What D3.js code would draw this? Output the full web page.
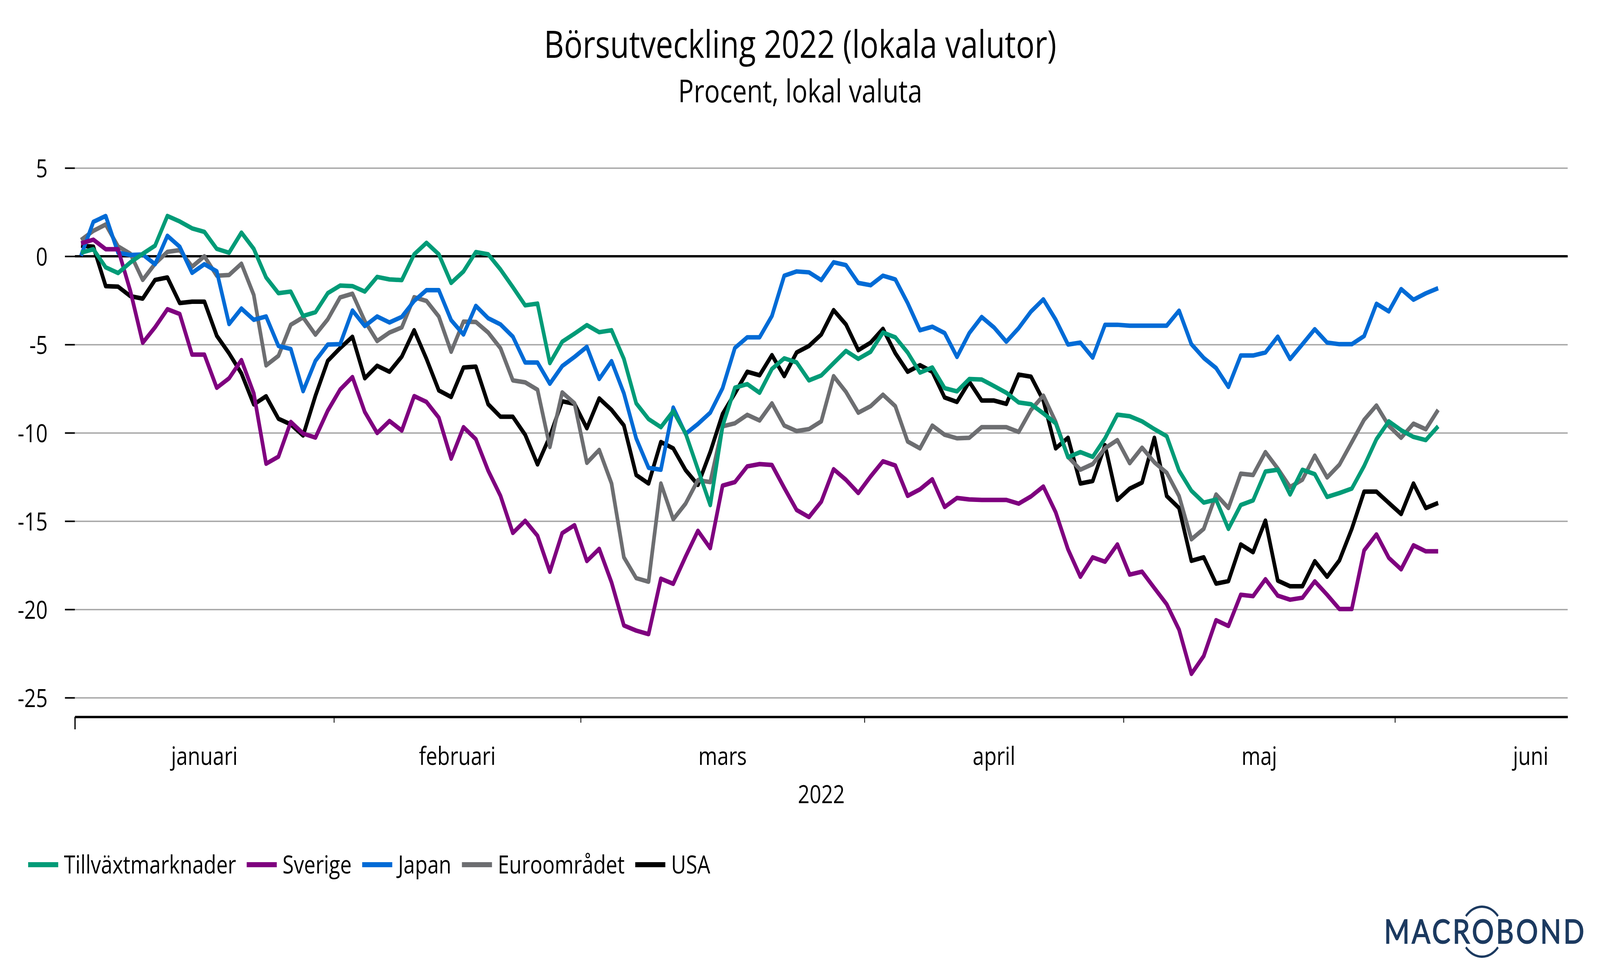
<!DOCTYPE html>
<html>
<head>
<meta charset="utf-8">
<title>Börsutveckling 2022</title>
<script src="https://cdn.jsdelivr.net/npm/d3@7/dist/d3.min.js"></script>
<style>
  html, body { margin: 0; background: #fff; overflow: hidden; }
  svg { display: block; width: 100vw; height: 100vh; }
  text { font-family: "Open Sans", sans-serif; fill: #000; }
</style>
</head>
<body>
<svg id="chart"></svg>
<script>
// values, one per business day from 3 jan 2022
const tillvaxt = [0.2,0.4,-0.63,-0.95,-0.35,0.14,0.6,2.28,1.97,1.58,1.38,0.42,0.2,1.34,0.42,-1.2,-2.09,-2.0,-3.38,-3.17,-2.09,-1.66,-1.69,-2.0,-1.17,
  -1.31,-1.35,0.11,0.76,0.11,-1.51,-0.86,0.24,0.11,-0.75,-1.75,-2.78,-2.68,-6.05,-4.84,-4.38,-3.9,-4.3,-4.19,-5.81,-8.33,-9.22,-9.68,-8.77,-10.03,-12.06,-14.09,-9.63,-7.44,-7.24,-7.73,
  -6.38,-5.78,-6.01,-7.03,-6.75,-6.05,-5.36,-5.81,-5.41,-4.32,-4.59,-5.45,-6.59,-6.3,-7.47,-7.65,-6.95,-6.98,-7.35,-7.73,-8.28,-8.38,-8.9,-9.46,-11.38,-11.09,-11.36,-10.31,-8.97,
  -9.06,-9.35,-9.79,-10.19,-12.14,-13.28,-13.95,-13.78,-15.44,-14.09,-13.83,-12.19,-12.09,-13.49,-12.09,-12.34,-13.63,-13.41,-13.16,-11.88,-10.36,-9.35,-9.85,-10.23,-10.41,-9.63];
const sverige = [0.73,0.94,0.4,0.4,-1.97,-4.9,-4.02,-3.0,-3.27,-5.57,-5.57,-7.45,-6.91,-5.88,-7.76,-11.75,-11.35,-9.38,-10.04,-10.27,-8.74,-7.55,-6.84,-8.82,-10.01,
  -9.33,-9.87,-7.92,-8.25,-9.14,-11.46,-9.68,-10.36,-12.14,-13.57,-15.67,-14.98,-15.83,-17.87,-15.68,-15.23,-17.26,-16.57,-18.47,-20.91,-21.2,-21.4,-18.26,-18.55,-17.01,-15.55,-16.53,-12.99,-12.79,-11.9,-11.77,
  -11.82,-13.12,-14.37,-14.77,-13.9,-12.06,-12.66,-13.41,-12.47,-11.61,-11.85,-13.57,-13.2,-12.63,-14.2,-13.69,-13.77,-13.8,-13.8,-13.8,-14.01,-13.6,-13.04,-14.5,-16.6,-18.15,-17.05,-17.3,-16.32,
  -18.03,-17.86,-18.79,-19.71,-21.15,-23.65,-22.64,-20.61,-20.94,-19.17,-19.25,-18.29,-19.22,-19.45,-19.34,-18.41,-19.17,-19.98,-19.98,-16.66,-15.75,-17.08,-17.73,-16.37,-16.71,-16.71];
const japan = [0.03,1.95,2.28,0.2,0.07,0.1,-0.45,1.16,0.54,-0.94,-0.45,-0.85,-3.84,-2.96,-3.6,-3.41,-5.08,-5.25,-7.64,-5.92,-5.0,-4.98,-3.07,-3.95,-3.41,
  -3.75,-3.43,-2.53,-1.92,-1.92,-3.62,-4.43,-2.81,-3.51,-3.86,-4.55,-6.02,-6.02,-7.22,-6.22,-5.7,-5.13,-6.95,-5.94,-7.76,-10.32,-11.98,-12.09,-8.57,-10.06,-9.5,-8.86,-7.47,-5.19,-4.59,-4.59,
  -3.38,-1.1,-0.86,-0.91,-1.35,-0.34,-0.5,-1.51,-1.64,-1.1,-1.31,-2.65,-4.19,-3.99,-4.35,-5.7,-4.35,-3.44,-4.03,-4.84,-4.07,-3.13,-2.44,-3.59,-5.0,-4.89,-5.74,-3.88,-3.88,
  -3.93,-3.93,-3.93,-3.93,-3.08,-4.98,-5.76,-6.33,-7.4,-5.62,-5.62,-5.45,-4.55,-5.82,-4.98,-4.13,-4.89,-4.98,-4.98,-4.52,-2.69,-3.12,-1.86,-2.46,-2.1,-1.81];
const euro = [0.92,1.44,1.8,0.56,0.14,-1.34,-0.42,0.25,0.35,-0.59,0,-1.1,-1.06,-0.42,-2.19,-6.18,-5.64,-3.88,-3.46,-4.44,-3.57,-2.33,-2.12,-3.67,-4.8,
  -4.32,-4.03,-2.32,-2.53,-3.41,-5.41,-3.7,-3.72,-4.32,-5.21,-7.03,-7.14,-7.56,-10.8,-7.71,-8.33,-11.7,-10.97,-12.87,-17.05,-18.23,-18.43,-12.87,-14.9,-14.01,-12.68,-12.79,-9.63,-9.46,-8.98,-9.3,
  -8.33,-9.59,-9.9,-9.79,-9.35,-6.79,-7.68,-8.86,-8.49,-7.84,-8.49,-10.49,-10.88,-9.59,-10.11,-10.31,-10.28,-9.68,-9.68,-9.68,-9.95,-8.7,-7.89,-9.38,-11.36,-12.09,-11.77,-10.87,-10.41,
  -11.72,-10.84,-11.67,-12.26,-13.58,-16.03,-15.44,-13.49,-14.26,-12.31,-12.39,-11.09,-12.02,-13.07,-12.65,-11.29,-12.53,-11.8,-10.53,-9.26,-8.45,-9.6,-10.28,-9.48,-9.8,-8.7];
const usa = [0.6,0.54,-1.69,-1.72,-2.26,-2.4,-1.34,-1.2,-2.65,-2.57,-2.57,-4.5,-5.5,-6.63,-8.39,-7.93,-9.2,-9.52,-10.15,-7.9,-5.92,-5.2,-4.56,-6.91,-6.2,
  -6.54,-5.68,-4.19,-5.81,-7.6,-7.97,-6.3,-6.25,-8.38,-9.09,-9.09,-10.11,-11.79,-10.2,-8.21,-8.36,-9.74,-8.05,-8.7,-9.58,-12.39,-12.87,-10.52,-10.88,-12.11,-12.95,-11.09,-8.93,-7.76,-6.54,-6.74,
  -5.6,-6.79,-5.45,-5.08,-4.43,-3.05,-3.86,-5.32,-4.89,-4.11,-5.49,-6.54,-6.17,-6.54,-8.0,-8.25,-7.11,-8.17,-8.17,-8.36,-6.7,-6.82,-8.17,-10.88,-10.28,-12.87,-12.73,-10.7,-13.8,
  -13.16,-12.82,-10.28,-13.58,-14.26,-17.25,-17.05,-18.54,-18.4,-16.32,-16.76,-14.97,-18.37,-18.69,-18.69,-17.27,-18.15,-17.22,-15.44,-13.33,-13.33,-13.97,-14.6,-12.87,-14.26,-13.97];

const seriesNames = ["Tillväxtmarknader", "Sverige", "Japan", "Euroområdet", "USA"];
const seriesValues = [tillvaxt, sverige, japan, euro, usa];
const seriesColors = ["#009b77", "#7f007f", "#006bd6", "#6d6e71", "#000000"];

const yTicks = [5, 0, -5, -10, -15, -20, -25];
const monthNames = ["januari", "februari", "mars", "april", "maj", "juni"];
const monthStarts = [0, 21, 41, 64, 85, 107];   // business days since 1 jan
const monthLengths = [21, 20, 23, 21, 22, 22];
const lastBusinessDay = 121;

const width = 5001;
const height = 2501;
const plotLeft = 234, plotRight = 4900, plotTop = 430, plotBottom = 1786, axisY = 1835;
const labelSize = 64;

// the window can be narrower than the chart, so the viewBox is stretched to fill it
const svg = d3.select("#chart")
  .attr("viewBox", [0, 0, width, height])
  .attr("preserveAspectRatio", "none");

svg.append("rect").attr("width", width).attr("height", height).attr("fill", "#fff");

const x = d3.scaleLinear().domain([0, lastBusinessDay]).range([plotLeft, plotRight]);
const y = d3.scaleLinear().domain([5, -25]).range([plotTop, plotBottom]);

// titles
svg.append("text").attr("x", 2501).attr("y", 148).attr("text-anchor", "middle")
  .attr("font-size", 97).text("Börsutveckling 2022 (lokala valutor)");
svg.append("text").attr("x", 2501).attr("y", 262).attr("text-anchor", "middle")
  .attr("font-size", 81).text("Procent, lokal valuta");

// gridlines
const grid = svg.append("g").attr("transform", `translate(${plotLeft},0)`)
  .call(d3.axisRight(y).tickValues(yTicks).tickSize(plotRight - plotLeft).tickFormat(""));
grid.select(".domain").remove();
grid.selectAll("line").attr("stroke", "#a6a6a6").attr("stroke-width", 3.5);

// y axis
const yAxis = svg.append("g").attr("transform", `translate(${plotLeft},0)`)
  .call(d3.axisLeft(y).tickValues(yTicks).tickSize(31).tickPadding(54).tickFormat(d => String(d)));
yAxis.select(".domain").remove();
yAxis.selectAll("line").attr("stroke", "#000").attr("stroke-width", 4);
yAxis.selectAll("text").attr("font-size", labelSize).attr("dy", "0.36em")
  .style("font-family", '"Open Sans", sans-serif');

// zero line
svg.append("line")
  .attr("x1", plotLeft).attr("x2", plotRight)
  .attr("y1", y(0)).attr("y2", y(0))
  .attr("stroke", "#000").attr("stroke-width", 6);

// x axis
const xAxis = svg.append("g").attr("transform", `translate(0,${axisY})`)
  .call(d3.axisBottom(x).tickValues(monthStarts).tickSize(15).tickSizeOuter(0).tickFormat(""));
xAxis.select(".domain").attr("stroke", "#000").attr("stroke-width", 6);
xAxis.selectAll(".tick line").attr("stroke", "#000").attr("stroke-width", 2.5)
  .filter(d => d === 0).attr("y2", 32).attr("stroke-width", 4);

svg.append("g").selectAll("text")
  .data(monthNames)
  .enter()
  .append("text")
  .attr("x", (d, i) => x(monthStarts[i] + monthLengths[i] / 2))
  .attr("y", 1958)
  .attr("text-anchor", "middle")
  .attr("font-size", labelSize)
  .text(d => d);

svg.append("text").attr("x", (plotLeft + plotRight) / 2).attr("y", 2056).attr("text-anchor", "middle")
  .attr("font-size", labelSize).text("2022");

// series, first in legend ends up on top
const line = d3.line()
  .x((d, i) => x(i + 0.5))
  .y(d => y(d))
  .curve(d3.curveLinear);

svg.append("g").selectAll("path")
  .data(d3.range(seriesNames.length).reverse())
  .enter()
  .append("path")
  .attr("d", d => line(seriesValues[d]))
  .attr("fill", "none")
  .attr("stroke", d => seriesColors[d])
  .attr("stroke-width", 11.5)
  .attr("stroke-linejoin", "round");

// legend
const legend = svg.append("g");
let legendX = 88;
seriesNames.forEach((name, i) => {
  legend.append("rect")
    .attr("x", legendX).attr("y", 2207)
    .attr("width", 94).attr("height", 13)
    .attr("fill", seriesColors[i]);
  const label = legend.append("text")
    .attr("x", legendX + 112).attr("y", 2236)
    .attr("font-size", labelSize)
    .text(name);
  legendX += 112 + label.node().getComputedTextLength() + 33;
});

// logo
const logoColor = "#1c3a60";
svg.append("text").attr("x", 4639).attr("y", 2415).attr("text-anchor", "middle")
  .attr("font-size", 86).attr("textLength", 626).attr("lengthAdjust", "spacing")
  .attr("stroke", logoColor).attr("stroke-width", 2)
  .style("font-family", "Lato, sans-serif").style("fill", logoColor)
  .text("MACROBOND");
const logoArc = d3.arc().innerRadius(61).outerRadius(67);
svg.append("g").attr("transform", "translate(4632,2385)").selectAll("path")
  .data([[-0.9, 0.9], [Math.PI - 0.9, Math.PI + 0.9]])
  .enter()
  .append("path")
  .attr("d", d => logoArc({ startAngle: d[0], endAngle: d[1] }))
  .attr("fill", logoColor);
</script>
</body>
</html>
